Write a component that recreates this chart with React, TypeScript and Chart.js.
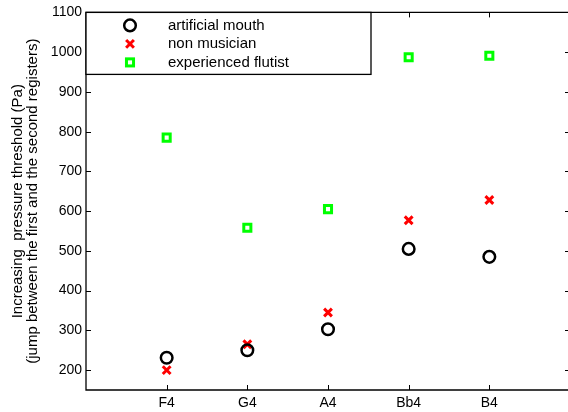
import React, { useEffect, useRef } from 'react';
import { Chart, registerables } from 'chart.js';

Chart.register(...registerables);

const categories = ['F4', 'G4', 'A4', 'Bb4', 'B4'];
const artificialMouth = [231, 250, 303, 505, 485];
const nonMusician = [200, 265, 345, 577, 628];
const experiencedFlutist = [785, 558, 605, 987, 991];
const seriesLabels = ['artificial mouth', 'non musician', 'experienced flutist'];
const yTicks = [200, 300, 400, 500, 600, 700, 800, 900, 1000, 1100];
const yTitle = ['Increasing  pressure threshold (Pa)', '(jump between the first and the second registers)'];

const FONT = '"Liberation Sans", Arial, Helvetica, sans-serif';

const toPoints = (vals: number[]) => vals.map((v, i) => ({ x: i + 1, y: v }));

function drawMarker(ctx: CanvasRenderingContext2D, kind: number, x: number, y: number) {
  ctx.save();
  if (kind === 0) {
    ctx.strokeStyle = '#000000';
    ctx.lineWidth = 2.5;
    ctx.beginPath();
    ctx.arc(x, y, 5.8, 0, Math.PI * 2);
    ctx.stroke();
  } else if (kind === 1) {
    ctx.strokeStyle = '#ff0000';
    ctx.lineWidth = 3;
    const d = 5.5 * Math.SQRT1_2;
    ctx.beginPath();
    ctx.moveTo(x - d, y - d);
    ctx.lineTo(x + d, y + d);
    ctx.moveTo(x - d, y + d);
    ctx.lineTo(x + d, y - d);
    ctx.stroke();
  } else {
    ctx.strokeStyle = '#00ff00';
    ctx.lineWidth = 3;
    const s = 5 * Math.SQRT1_2;
    ctx.strokeRect(x - s, y - s, 2 * s, 2 * s);
  }
  ctx.restore();
}

const framePlugin = {
  id: 'matlabFrame',
  afterDatasetsDraw(chart: any) {
    const { ctx, chartArea, scales } = chart;
    const { left, right, top, bottom } = chartArea;
    const xs = scales.x;
    const ys = scales.y;
    ctx.save();
    ctx.strokeStyle = '#000000';
    ctx.lineWidth = 1.3;
    ctx.beginPath();
    ctx.rect(left, top, right - left, bottom - top);
    ctx.stroke();
    ctx.lineWidth = 1;
    const tl = 5;
    ctx.beginPath();
    yTicks.forEach((v) => {
      const py = Math.round(ys.getPixelForValue(v)) + 0.5;
      ctx.moveTo(left, py);
      ctx.lineTo(left + tl, py);
      ctx.moveTo(right, py);
      ctx.lineTo(right - tl, py);
    });
    categories.forEach((_, i) => {
      const px = Math.round(xs.getPixelForValue(i + 1)) + 0.5;
      ctx.moveTo(px, bottom);
      ctx.lineTo(px, bottom - tl);
      ctx.moveTo(px, top);
      ctx.lineTo(px, top + tl);
    });
    ctx.stroke();

    // legend box
    const bx = left;
    const by = top;
    const bw = 285;
    const bh = 62;
    ctx.fillStyle = '#ffffff';
    ctx.fillRect(bx, by, bw, bh);
    ctx.lineWidth = 1.3;
    ctx.strokeStyle = '#000000';
    ctx.strokeRect(bx, by, bw, bh);
    ctx.fillStyle = '#000000';
    ctx.font = `15px ${FONT}`;
    ctx.textBaseline = 'middle';
    ctx.textAlign = 'left';
    chart.data.datasets.forEach((ds: any, i: number) => {
      const ry = by + 13 + i * 18.5;
      drawMarker(ctx, i, bx + 44, ry);
      ctx.fillText(ds.label, bx + 82, ry);
    });
    ctx.restore();
  },
};

export default function App() {
  const ref = useRef<HTMLCanvasElement | null>(null);

  useEffect(() => {
    if (!ref.current) return;
    const chart = new Chart(ref.current, {
      type: 'scatter',
      data: {
        datasets: [
          {
            label: seriesLabels[0],
            data: toPoints(artificialMouth),
            pointStyle: 'circle',
            pointRadius: 5.8,
            pointBorderWidth: 2.5,
            borderColor: '#000000',
            backgroundColor: 'rgba(0,0,0,0)',
            showLine: false,
          },
          {
            label: seriesLabels[1],
            data: toPoints(nonMusician),
            pointStyle: 'crossRot',
            pointRadius: 5.5,
            pointBorderWidth: 3,
            borderColor: '#ff0000',
            backgroundColor: '#ff0000',
            showLine: false,
          },
          {
            label: seriesLabels[2],
            data: toPoints(experiencedFlutist),
            pointStyle: 'rect',
            pointRadius: 5,
            pointBorderWidth: 3,
            borderColor: '#00ff00',
            backgroundColor: 'rgba(0,0,0,0)',
            showLine: false,
          },
        ],
      },
      options: {
        animation: false,
        responsive: false,
        devicePixelRatio: 1,
        events: [],
        layout: { autoPadding: false, padding: { top: 12, right: 0, left: 0, bottom: 0 } },
        plugins: {
          legend: { display: false },
          tooltip: { enabled: false },
          title: { display: false },
        },
        scales: {
          x: {
            type: 'linear',
            min: 0,
            max: 6,
            grid: { display: false, drawTicks: false },
            border: { display: false },
            afterBuildTicks: (scale: any) => {
              scale.ticks = categories.map((_, i) => ({ value: i + 1 }));
            },
            afterFit: (scale: any) => {
              scale.height = 22;
            },
            ticks: {
              autoSkip: false,
              maxRotation: 0,
              padding: 5,
              color: '#000000',
              font: { size: 14, family: FONT },
              callback: (_v: any, i: number) => categories[i],
            },
          },
          y: {
            type: 'linear',
            min: 150,
            max: 1100,
            grid: { display: false, drawTicks: false },
            border: { display: false },
            afterBuildTicks: (scale: any) => {
              scale.ticks = yTicks.map((v) => ({ value: v }));
            },
            afterFit: (scale: any) => {
              scale.width = 86;
            },
            ticks: {
              autoSkip: false,
              padding: 4,
              color: '#000000',
              font: { size: 14, family: FONT },
              callback: (v: any) => String(v),
            },
            title: {
              display: true,
              text: yTitle,
              color: '#000000',
              font: { size: 15, family: FONT, lineHeight: 0.95 },
              padding: { top: 11, bottom: 0 },
            },
          },
        },
      },
      plugins: [framePlugin],
    });
    return () => chart.destroy();
  }, []);

  return (
    <div style={{ position: 'absolute', left: 0, top: 0, width: 568, height: 412, overflow: 'hidden' }}>
      <canvas ref={ref} width={570} height={412} style={{ width: 570, height: 412, display: 'block' }} />
    </div>
  );
}
